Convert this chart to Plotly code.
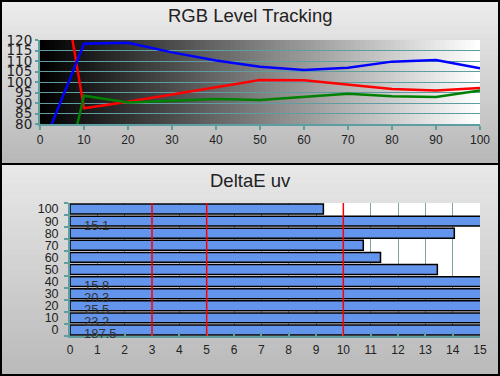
import plotly.graph_objects as go

# ---- data ----
levels = [0, 10, 20, 30, 40, 50, 60, 70, 80, 90, 100]
red = [212, 87.5, 90.6, 94.1, 97.5, 101.0, 100.8, 98.6, 96.7, 96.0, 97.1]
green = [4, 93.5, 90.2, 91.0, 91.9, 91.4, 92.9, 94.4, 93.2, 92.9, 96.0]
blue = [66, 118.2, 118.7, 114.1, 110.2, 107.3, 105.7, 106.8, 109.7, 110.5, 106.5]

de_cats = ["0", "10", "20", "30", "40", "50", "60", "70", "80", "90", "100"]
de_vals = [187.5, 23.2, 25.5, 20.3, 15.8, 13.44, 11.36, 10.73, 14.06, 15.1, 9.27]
ref_lines = [3, 5, 10]

W, H = 500, 376
def px(x): return x / W
def py(y): return 1 - y / H

TEAL = "#5f9ea0"
FONT = "Liberation Sans, Arial, sans-serif"

fig = go.Figure()
fig.add_trace(go.Scatter(x=levels, y=red, mode="lines", line=dict(color="#ff0000", width=2.5),
                         xaxis="x", yaxis="y", showlegend=False))
fig.add_trace(go.Scatter(x=levels, y=green, mode="lines", line=dict(color="#008000", width=2.5),
                         xaxis="x", yaxis="y", showlegend=False))
fig.add_trace(go.Scatter(x=levels, y=blue, mode="lines", line=dict(color="#0000ff", width=2.5),
                         xaxis="x", yaxis="y", showlegend=False))

fig.add_trace(go.Bar(x=de_vals, y=de_cats, orientation="h", xaxis="x2", yaxis="y2",
                     marker=dict(color="#6495ed", line=dict(color="black", width=1.5)),
                     showlegend=False))

shapes = []
# panel vertical gradients
def vgrad(y0, y1, c0, c1, n=30):
    for i in range(n):
        t = i / (n - 1)
        c = int(round(c0 + (c1 - c0) * t))
        ya = y0 + (y1 - y0) * i / n
        yb = y0 + (y1 - y0) * (i + 1) / n + 0.5
        shapes.append(dict(type="rect", xref="paper", yref="paper", x0=0, x1=1,
                           y0=py(yb), y1=py(ya), fillcolor=f"rgb({c},{c},{c})",
                           line=dict(width=0), layer="below"))
vgrad(0, 164, 236, 184)
vgrad(164, 376, 232, 186)

# top plot horizontal black->white gradient
x0p, x1p = 40, 480
n = 88
for i in range(n):
    t = i / (n - 1)
    c = int(round(255 * t))
    xa = x0p + (x1p - x0p) * i / n
    xb = x0p + (x1p - x0p) * (i + 1) / n + 0.5
    shapes.append(dict(type="rect", xref="paper", yref="paper", x0=px(xa), x1=px(min(xb, x1p)),
                       y0=py(124), y1=py(40), fillcolor=f"rgb({c},{c},{c})",
                       line=dict(width=0), layer="below"))
# bottom plot white background
shapes.append(dict(type="rect", xref="paper", yref="paper", x0=px(70), x1=px(480),
                   y0=py(336), y1=py(203), fillcolor="white", line=dict(width=0), layer="below"))

# reference lines in bottom chart
for v in ref_lines:
    shapes.append(dict(type="line", xref="x2", yref="y2 domain", x0=v, x1=v, y0=0, y1=1,
                       line=dict(color="#ff0000", width=1.5), layer="above"))

# frames
shapes.append(dict(type="rect", xref="paper", yref="paper", x0=px(1), x1=px(499), y0=py(375), y1=py(1),
                   line=dict(color="black", width=2), layer="above"))
shapes.append(dict(type="line", xref="paper", yref="paper", x0=0, x1=1, y0=py(164), y1=py(164),
                   line=dict(color="black", width=2), layer="above"))

annotations = [
    dict(text="RGB Level Tracking", x=0.5, y=py(16), xref="paper", yref="paper", showarrow=False,
         font=dict(size=18.5, color="#222", family=FONT), yanchor="middle"),
    dict(text="DeltaE uv", x=0.5, y=py(180), xref="paper", yref="paper", showarrow=False,
         font=dict(size=18.5, color="#222", family=FONT), yanchor="middle"),
]
for i, v in enumerate(de_vals):
    if v > 15:
        annotations.append(dict(text=f"{v:g}", x=0.45, y=i, xref="x2", yref="y2", xanchor="left",
                                yanchor="middle", yshift=-4, showarrow=False,
                                font=dict(size=13, color="#333", family=FONT)))

fig.update_layout(
    width=W, height=H, margin=dict(l=0, r=0, t=0, b=0, autoexpand=False),
    paper_bgcolor="#d0d0d0", plot_bgcolor="rgba(0,0,0,0)",
    font=dict(family=FONT, size=12, color="#222"),
    shapes=shapes, annotations=annotations, bargap=0.18,
    xaxis=dict(domain=[px(40), px(480)], range=[0, 100], tickvals=levels, showgrid=False,
               showline=True, linecolor=TEAL, linewidth=2, ticks="outside", ticklen=4,
               tickcolor=TEAL, tickwidth=2, zeroline=False, anchor="y", automargin=False,
               tickfont=dict(size=12, color="#222")),
    yaxis=dict(domain=[py(124), py(40)], range=[80, 120], dtick=5, showgrid=True,
               gridcolor=TEAL, gridwidth=1, showline=True, linecolor=TEAL, linewidth=2,
               ticks="outside", ticklen=3, tickcolor=TEAL, tickwidth=2, zeroline=False,
               anchor="x", automargin=False,
               tickfont=dict(size=13.5, color="#222", family="DejaVu Sans, sans-serif")),
    xaxis2=dict(domain=[px(70), px(480)], range=[0, 15], dtick=1, showgrid=True,
                gridcolor="#7fa3a3", gridwidth=1, showline=True, linecolor=TEAL, linewidth=2,
                ticks="inside", ticklen=4, tickcolor=TEAL, tickwidth=2, zeroline=False,
                anchor="y2", automargin=False, ticklabelstandoff=2,
                tickfont=dict(size=12, color="#222")),
    yaxis2=dict(domain=[py(336), py(203)], type="category", categoryorder="array",
                categoryarray=de_cats, range=[-0.5, 10.5], tickmode="linear", tick0=0, dtick=1,
                showgrid=False, showline=True,
                linecolor=TEAL, linewidth=2, ticks="outside", ticklen=4, tickcolor=TEAL,
                tickwidth=2, tickson="boundaries", anchor="x2", automargin=False,
                ticksuffix="\u00a0\u00a0", tickfont=dict(size=12.5, color="#222")),
)

fig.write_html("out.html", config={"displayModeBar": False},
               post_script="document.body.style.margin='0';document.body.style.overflow='hidden';")
